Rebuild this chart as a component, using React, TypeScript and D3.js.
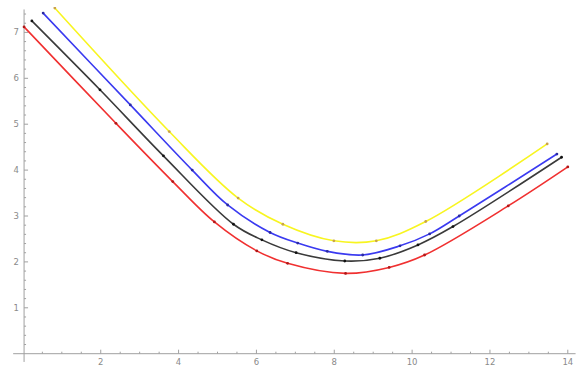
import React, { useRef, useEffect } from "react";
import * as d3 from "d3";

// values
const redX = [0.03, 2.39, 3.85, 4.92, 6.01, 6.8, 8.29, 9.41, 10.32, 12.47, 14.0];
const redY = [7.12, 5.02, 3.75, 2.87, 2.24, 1.97, 1.75, 1.88, 2.15, 3.22, 4.07];
const blackX = [0.23, 1.98, 3.61, 5.41, 6.14, 7.02, 8.27, 9.17, 10.15, 11.05, 13.84];
const blackY = [7.25, 5.75, 4.31, 2.82, 2.48, 2.2, 2.02, 2.08, 2.37, 2.77, 4.28];
const blueX = [0.52, 2.76, 4.35, 5.26, 6.35, 7.06, 7.82, 8.73, 9.69, 10.45, 11.21, 13.72];
const blueY = [7.42, 5.42, 4.0, 3.24, 2.64, 2.41, 2.23, 2.15, 2.35, 2.61, 3.0, 4.35];
const yellowX = [0.82, 3.76, 5.53, 6.68, 7.99, 9.08, 10.35, 13.47];
const yellowY = [7.53, 4.84, 3.39, 2.82, 2.46, 2.46, 2.88, 4.57];

const xMajor = [2, 4, 6, 8, 10, 12, 14];
const yMajor = [1, 2, 3, 4, 5, 6, 7];

const width = 581;
const height = 365;

const App = () => {
    const svgRef = useRef(null);

    useEffect(() => {
        const svg = d3.select(svgRef.current);
        svg.selectAll("*").remove();

        const x = d3.scaleLinear().domain([0, 14]).range([22.9, 567.8]);
        const y = d3.scaleLinear().domain([0, 7]).range([353.7, 32.4]);

        const axisColor = "#a0a0a0";
        const labelColor = "#8a8a8a";
        const yAxisX = x(0.03);

        // plot area clip, like Mathematica's plot range
        svg.append("clipPath").attr("id", "plotclip")
            .append("rect").attr("x", 0).attr("y", 7).attr("width", width).attr("height", height);

        const axes = svg.append("g");
        // x axis
        axes.append("line")
            .attr("x1", x(-0.25)).attr("x2", x(14.2))
            .attr("y1", y(0)).attr("y2", y(0))
            .attr("stroke", axisColor).attr("stroke-width", 1);
        const xMinor = d3.range(0.5, 14.01, 0.5).filter(v => v % 2 !== 0);
        axes.selectAll(".xminor").data(xMinor).join("line")
            .attr("x1", d => x(d)).attr("x2", d => x(d))
            .attr("y1", y(0)).attr("y2", y(0) - 2)
            .attr("stroke", axisColor);
        axes.selectAll(".xmajor").data(xMajor).join("line")
            .attr("x1", d => x(d)).attr("x2", d => x(d))
            .attr("y1", y(0)).attr("y2", y(0) - 4)
            .attr("stroke", axisColor);
        axes.selectAll(".xlabel").data(xMajor).join("text")
            .attr("x", d => x(d)).attr("y", 361.5)
            .attr("text-anchor", "middle").attr("dominant-baseline", "central")
            .attr("font-family", "DejaVu Sans, sans-serif").attr("font-size", 8.5)
            .attr("fill", labelColor)
            .text(d => d);

        // y axis
        axes.append("line")
            .attr("x1", yAxisX).attr("x2", yAxisX)
            .attr("y1", y(-0.18)).attr("y2", y(7.5))
            .attr("stroke", axisColor).attr("stroke-width", 1);
        const yMinor = d3.range(1, 38).map(i => i * 0.2).filter(v => Math.abs(v - Math.round(v)) > 0.01);
        axes.selectAll(".yminor").data(yMinor).join("line")
            .attr("x1", yAxisX).attr("x2", yAxisX + 2)
            .attr("y1", d => y(d)).attr("y2", d => y(d))
            .attr("stroke", axisColor);
        axes.selectAll(".ymajor").data(yMajor).join("line")
            .attr("x1", yAxisX).attr("x2", yAxisX + 4)
            .attr("y1", d => y(d)).attr("y2", d => y(d))
            .attr("stroke", axisColor);
        axes.selectAll(".ylabel").data(yMajor).join("text")
            .attr("x", 19).attr("y", d => y(d))
            .attr("text-anchor", "end").attr("dominant-baseline", "central")
            .attr("font-family", "DejaVu Sans, sans-serif").attr("font-size", 8.5)
            .attr("fill", labelColor)
            .text(d => d);

        const series = [
            { xs: yellowX, ys: yellowY, color: "#f8f520", dot: "#c9a24a" },
            { xs: blueX, ys: blueY, color: "#3a3af0", dot: "#2a2aa0" },
            { xs: blackX, ys: blackY, color: "#3a3a3a", dot: "#111111" },
            { xs: redX, ys: redY, color: "#f03030", dot: "#b01818" },
        ];

        // smooth curve through the points
        const myLine = d3.line()
            .x(d => x(d[0]))
            .y(d => y(d[1]))
            .curve(d3.curveCatmullRom.alpha(0.5));

        const plot = svg.append("g").attr("clip-path", "url(#plotclip)");
        series.forEach(s => {
            const pts = s.xs.map((v, i) => [v, s.ys[i]]);
            plot.append("path")
                .datum(pts)
                .attr("d", myLine)
                .attr("fill", "none")
                .attr("stroke", s.color)
                .attr("stroke-width", 1.6);
            plot.selectAll(null).data(pts).join("circle")
                .attr("cx", d => x(d[0]))
                .attr("cy", d => y(d[1]))
                .attr("r", 1.4)
                .attr("fill", s.dot);
        });
    }, []);

    return (
        <svg
            ref={svgRef}
            width={width}
            height={height}
            style={{ position: "absolute", left: 0, top: 0, background: "#fff" }}
        />
    );
};

export default App;
